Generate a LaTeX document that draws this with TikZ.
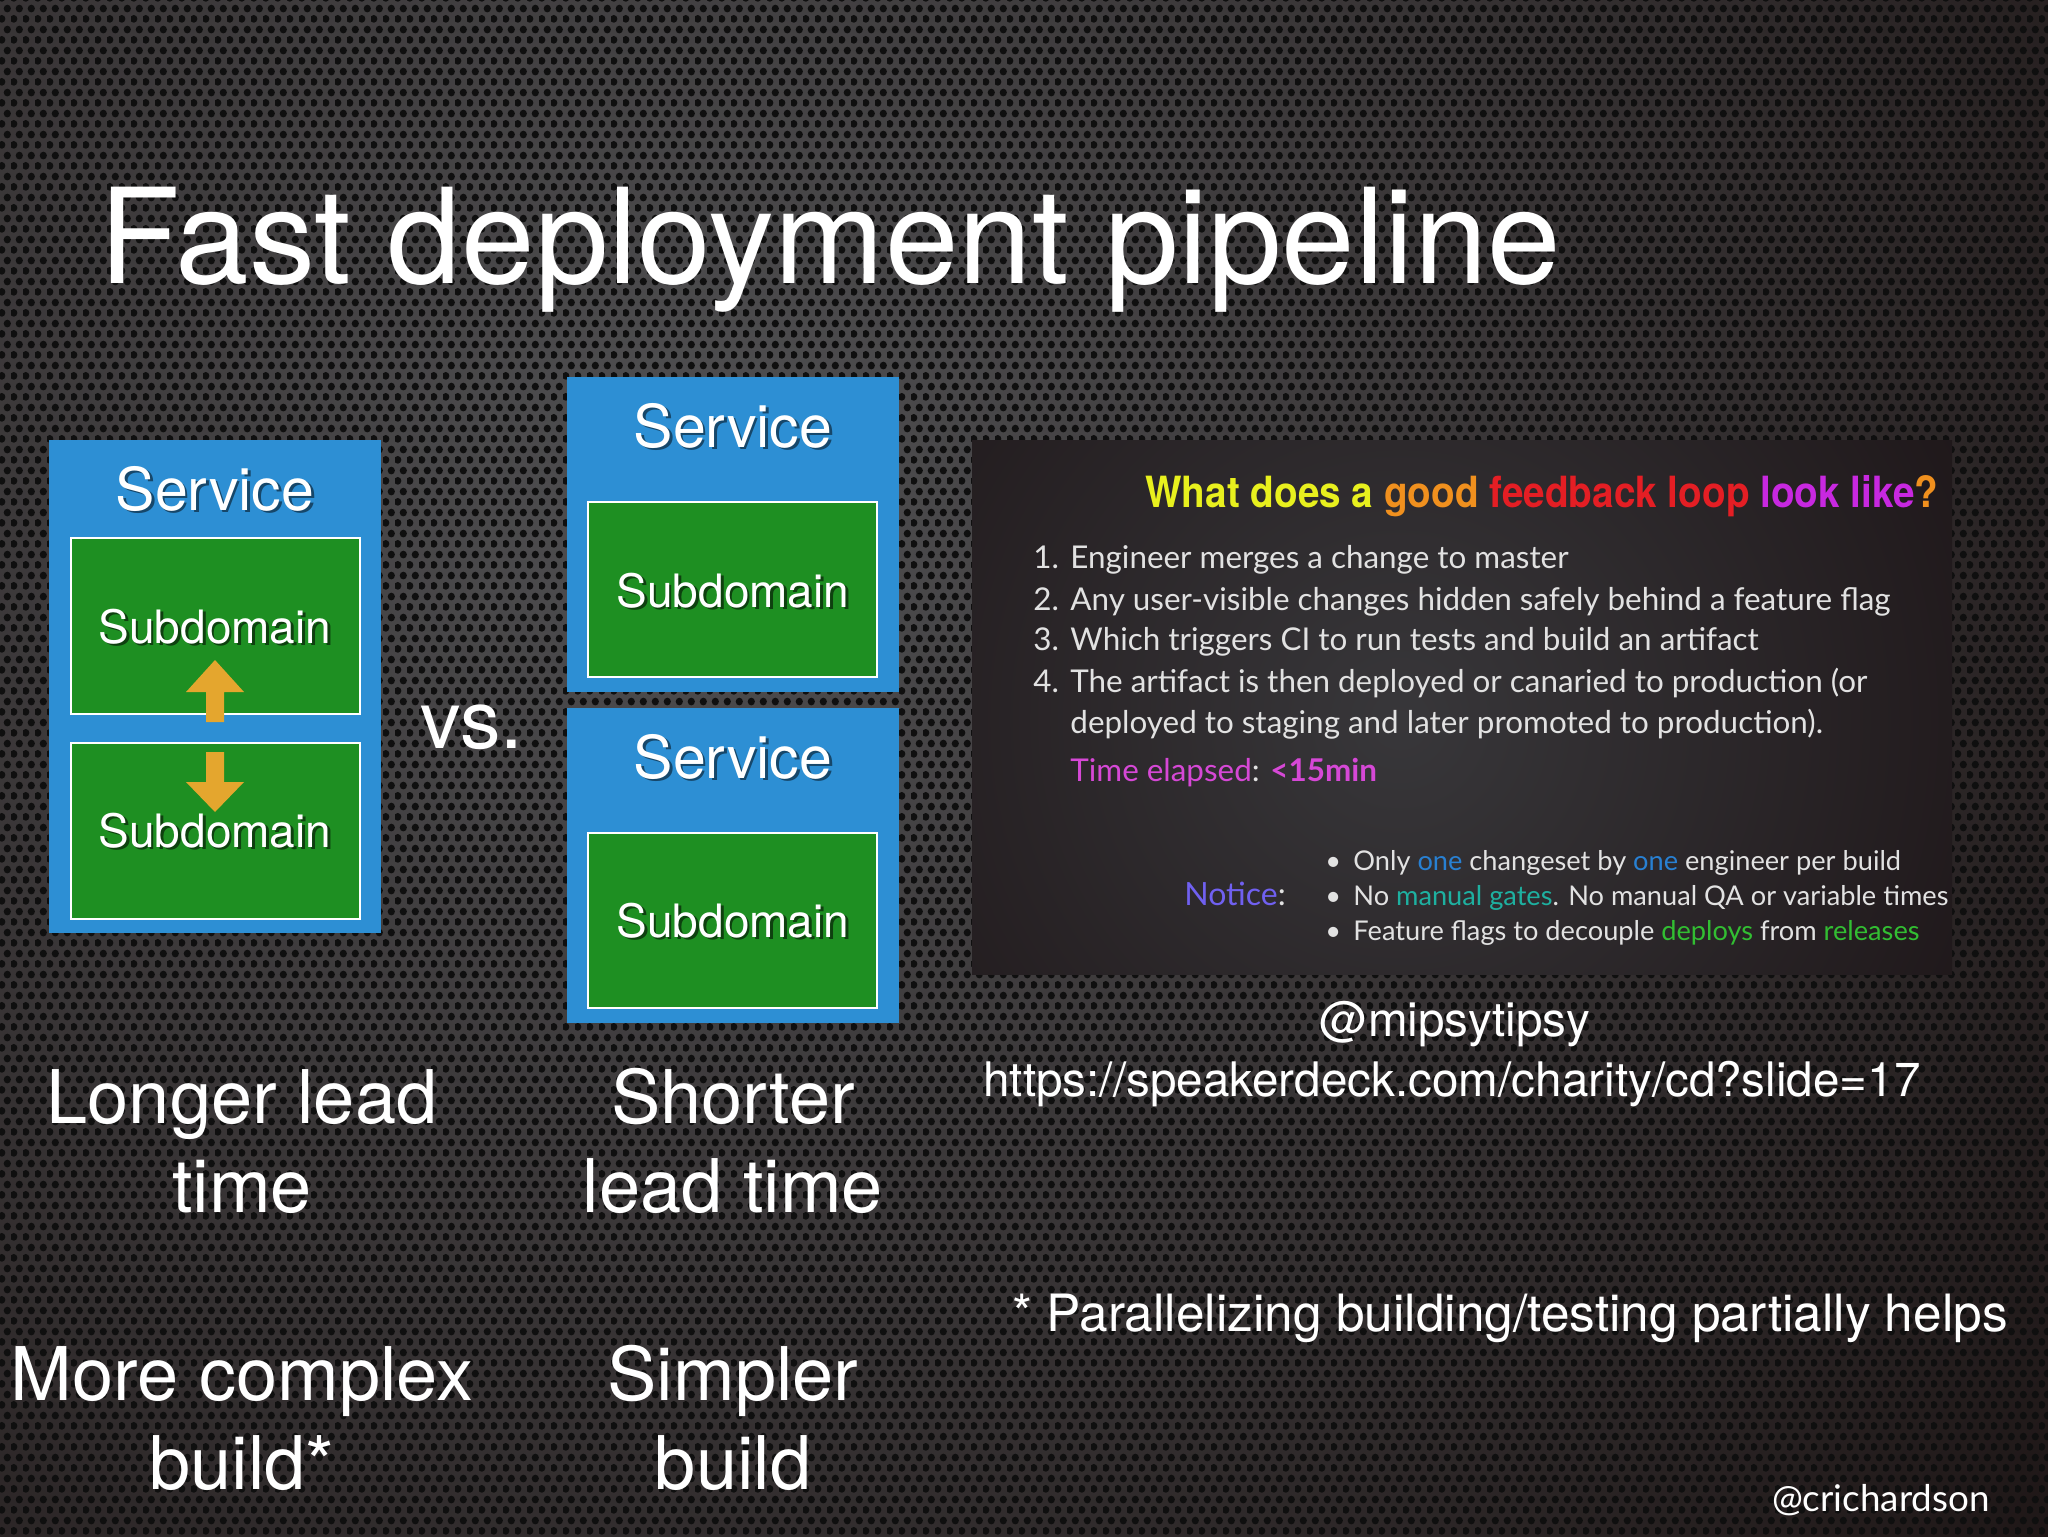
\documentclass[tikz,border=0pt]{standalone}
\usepackage{fontspec}
\setmainfont{TeX Gyre Heros}
\newfontfamily\gill{Lato}
\newfontfamily\condb[FakeStretch=0.9]{TeX Gyre Heros}
\usetikzlibrary{patterns.meta}

\pgfdeclarepattern{
  name=holes,
  type=uncolored,
  bottom left={\pgfpoint{0pt}{0pt}},
  top right={\pgfpoint{6pt}{10.392pt}},
  tile size={\pgfpoint{6pt}{10.392pt}},
  code={
    \pgfpathcircle{\pgfpoint{1.5pt}{2.598pt}}{1.95pt}
    \pgfpathcircle{\pgfpoint{4.5pt}{7.794pt}}{1.95pt}
    \pgfusepath{fill}
  }
}

\definecolor{svcblue}{RGB}{45,143,212}
\definecolor{subgreen}{RGB}{30,143,34}
\definecolor{arrowgold}{RGB}{228,166,46}
\definecolor{meshlight}{RGB}{80,80,82}
\definecolor{meshdark}{RGB}{28,20,20}
\definecolor{fbdark}{RGB}{20,10,12}
\definecolor{fbmid}{RGB}{56,55,58}
\definecolor{tyellow}{RGB}{232,240,30}
\definecolor{torange}{RGB}{240,144,30}
\definecolor{tred}{RGB}{228,30,36}
\definecolor{tmag}{RGB}{200,40,224}
\definecolor{tpink}{RGB}{214,72,214}
\definecolor{tnotice}{RGB}{112,96,240}
\definecolor{tblue}{RGB}{40,128,210}
\definecolor{tteal}{RGB}{30,176,160}
\definecolor{tgreen}{RGB}{50,190,50}
\definecolor{fbtext}{RGB}{226,226,226}

\newcommand{\shtxt}[2]{\makebox[0pt][l]{\hspace*{1.3pt}\raisebox{-1.3pt}{\textcolor{#1}{#2}}}#2}

\begin{document}
\begin{tikzpicture}[x=0.5pt,y=-0.5pt,
  svc/.style={fill=svcblue, inner sep=0pt, outer sep=0pt, anchor=north west},
  sub/.style={fill=subgreen, draw=white, line width=1pt, inner sep=0pt, outer sep=0pt, anchor=north west},
  svclabel/.style={anchor=base, text=white, font=\fontsize{29.5}{35}\selectfont, inner sep=0pt},
  sublabel/.style={anchor=base, text=white, font=\fontsize{23}{28}\selectfont, inner sep=0pt},
  big/.style={anchor=base, text=white, font=\fontsize{37}{44}\selectfont, inner sep=0pt},
  fbline/.style={anchor=base west, text=fbtext, font=\gill\fontsize{15.7}{18}\selectfont, inner sep=0pt},
  fbnote/.style={anchor=base west, text=fbtext, font=\gill\fontsize{13.6}{16}\selectfont, inner sep=0pt},
  blockarrow/.style={fill=arrowgold}
]
\useasboundingbox (0,0) rectangle (2048,1536);

% background: perforated metal
\begin{scope}
  \clip (0,0) rectangle (2048,1536);
  \fill[meshdark] (0,0) rectangle (2048,1536);
  \shade[inner color=meshlight, outer color=meshdark] (700,480) circle (1800);
  \fill[pattern=holes, pattern color=black!94] (0,0) rectangle (2048,1536);
\end{scope}

% title
\node[anchor=base west, text=white, font=\fontsize{66.1}{70}\selectfont, inner sep=0pt] (title) at (99,283) {Fast deployment pipeline};

% left service with two subdomains
\node[svc, minimum width=166pt, minimum height=246.5pt] (svcA) at (49,440) {};
\node[sub, minimum width=144.5pt, minimum height=88pt] (subA1) at (71,538) {};
\node[sub, minimum width=144.5pt, minimum height=88pt] (subA2) at (71,743) {};
\node[svclabel] (svcAlab) at (215,510) {\shtxt{svcblue!50!black}{Service}};
\node[sublabel] (subA1lab) at (215,643) {\shtxt{subgreen!45!black}{Subdomain}};
\node[sublabel] (subA2lab) at (215,847) {\shtxt{subgreen!45!black}{Subdomain}};
\fill[blockarrow] (206,722) -- (206,692) -- (186,692) -- (215,660) -- (244,692) -- (224,692) -- (224,722) -- cycle;
\fill[blockarrow] (206,752) -- (224,752) -- (224,782) -- (244,782) -- (215,812) -- (186,782) -- (206,782) -- cycle;

% vs.
\node[anchor=base west, text=white, font=\fontsize{40.5}{46}\selectfont, inner sep=0pt] (vs) at (420,748) {vs.};

% right services
\node[svc, minimum width=166pt, minimum height=157.5pt] (svcB) at (567,377) {};
\node[sub, minimum width=144.5pt, minimum height=87.5pt] (subB) at (588,502) {};
\node[svclabel] (svcBlab) at (733,447) {\shtxt{svcblue!50!black}{Service}};
\node[sublabel] (subBlab) at (733,607) {\shtxt{subgreen!45!black}{Subdomain}};

\node[svc, minimum width=166pt, minimum height=157.5pt] (svcC) at (567,708) {};
\node[sub, minimum width=144.5pt, minimum height=87.5pt] (subC) at (588,833) {};
\node[svclabel] (svcClab) at (733,778) {\shtxt{svcblue!50!black}{Service}};
\node[sublabel] (subClab) at (733,937) {\shtxt{subgreen!45!black}{Subdomain}};

% bottom texts
\node[big] (l1) at (242,1123) {Longer lead};
\node[big] (l2) at (242,1212) {time};
\node[big] (l3) at (242,1400) {More complex};
\node[big] (l4) at (242,1489) {build*};
\node[big] (r1) at (733,1123) {Shorter};
\node[big] (r2) at (733,1212) {lead time};
\node[big] (r3) at (733,1400) {Simpler};
\node[big] (r4) at (733,1489) {build};

% feedback screenshot
\begin{scope}
  \clip (972,440) rectangle (1952,974);
  \fill[fbdark] (972,440) rectangle (1952,974);
  \shade[inner color=fbmid, outer color=fbdark] (1400,720) circle (900);
\end{scope}
\node[anchor=base west, inner sep=0pt, font=\condb\bfseries\fontsize{21.5}{25}\selectfont] (fbtitle) at (1145,507)
  {\textcolor{tyellow}{What does a} \textcolor{torange}{good} \textcolor{tred}{feedback loop} \textcolor{tmag}{look like}\textcolor{torange}{?}};
\node[fbline] (n1) at (1033,568) {1.};
\node[fbline] (t1) at (1070,568) {Engineer merges a change to master};
\node[fbline] (n2) at (1033,610) {2.};
\node[fbline] (t2) at (1070,610) {Any user-visible changes hidden safely behind a feature flag};
\node[fbline] (n3) at (1033,650) {3.};
\node[fbline] (t3) at (1070,650) {Which triggers CI to run tests and build an artifact};
\node[fbline] (n4) at (1033,692) {4.};
\node[fbline] (t4) at (1070,692) {The artifact is then deployed or canaried to production (or};
\node[fbline] (t4b) at (1070,733) {deployed to staging and later promoted to production).};
\node[fbline] (elapsed) at (1070,781) {\textcolor{tpink}{Time elapsed}: \textcolor{tpink}{\bfseries <15min}};
\node[fbnote, font=\gill\fontsize{16}{18}\selectfont] (notice) at (1184,905) {\textcolor{tnotice}{Notice}:};
\node[fbnote] (b1) at (1325,870) {•};
\node[fbnote] (bt1) at (1353,870) {Only \textcolor{tblue}{one} changeset by \textcolor{tblue}{one} engineer per build};
\node[fbnote] (b2) at (1325,905) {•};
\node[fbnote] (bt2) at (1353,905) {No \textcolor{tteal}{manual gates}. No manual QA or variable times};
\node[fbnote] (b3) at (1325,940) {•};
\node[fbnote] (bt3) at (1353,940) {Feature flags to decouple \textcolor{tgreen}{deploys} from \textcolor{tgreen}{releases}};

% credits
\node[anchor=base, text=white, font=\fontsize{23.8}{28}\selectfont, inner sep=0pt] (mips) at (1455,1036) {@mipsytipsy};
\node[anchor=base, text=white, font=\fontsize{23.8}{28}\selectfont, inner sep=0pt] (url) at (1452,1096) {https://speakerdeck.com/charity/cd?slide=17};
\node[anchor=base west, text=white, font=\fontsize{25.7}{30}\selectfont, inner sep=0pt] (note) at (1012,1331) {* Parallelizing building/testing partially helps};
\node[anchor=base east, text=white, font=\gill\fontsize{18.4}{22}\selectfont, inner sep=0pt] (author) at (1990,1511) {@crichardson};
\end{tikzpicture}
\end{document}
